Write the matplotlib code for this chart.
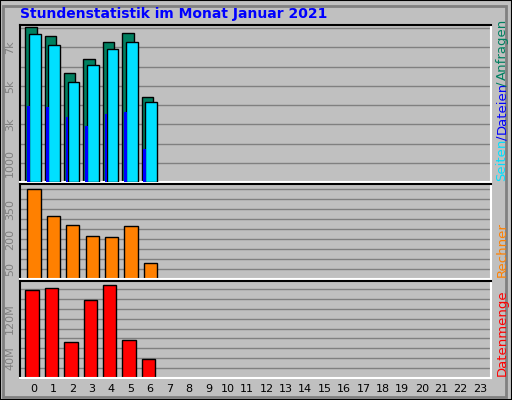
import matplotlib
matplotlib.use("Agg")
import matplotlib.pyplot as plt
from matplotlib.patches import Rectangle

hours = list(range(24))
hits = [8040, 7600, 5670, 6400, 7300, 7770, 4400]
files = [7680, 7140, 5190, 6090, 6930, 7300, 4140]
pages = [3950, 3880, 3370, 2930, 3530, 3630, 1740]
sites = [448, 316, 270, 215, 209, 265, 78]
kbytes = [178.6e6, 181e6, 73e6, 158e6, 187e6, 77e6, 38e6]

W, H = 512, 400
fig = plt.figure(figsize=(W/100, H/100), dpi=100)
fig.patch.set_facecolor('#C0C0C0')
bg = '#C0C0C0'
fig.add_artist(Rectangle((0, 0), 1, 1, transform=fig.transFigure, fill=False, ec='black', lw=1.5))
fig.add_artist(Rectangle((3/W, 3/H), 1-9/W, 1-9/H, transform=fig.transFigure, fill=False, ec='#808080', lw=2))

def ax_at(x0, y0, x1, y1):
    a = fig.add_axes([x0/W, 1-y1/H, (x1-x0)/W, (y1-y0)/H])
    a.set_facecolor(bg)
    for s in a.spines.values():
        s.set_color('white'); s.set_linewidth(1.5)
    a.spines['top'].set_color('black'); a.spines['left'].set_color('black')
    a.set_xlim(-0.706, 23.57)
    a.tick_params(length=0, labelsize=8, labelcolor='#808080')
    a.set_xticks([])
    return a

def grid(a, step, top):
    v = step
    while v < top:
        a.axhline(v, color='#808080', lw=1, zorder=0)
        v += step

a1 = ax_at(20, 25, 491, 182)
a1.set_ylim(0, 8160)
grid(a1, 1000, 8160)
for i in range(len(hits)):
    a1.bar(i - 0.44, hits[i], width=0.59, align='edge', color='#008060', ec='black', lw=1, zorder=2)
    a1.bar(i - 0.24, files[i], width=0.60, align='edge', color='#00E0FF', ec='black', lw=1, zorder=3)
    a1.bar(i - 0.35, pages[i], width=0.14, align='edge', color='#0000FF', ec='none', zorder=4)
a1.set_yticks([1000, 3000, 5000, 7000], ['1000', '3k', '5k', '7k'], rotation=90, va='center')

a2 = ax_at(20, 184, 491, 279)
a2.set_ylim(0, 475)
grid(a2, 50, 475)
a2.bar([i - 0.33 for i in range(len(sites))], sites, width=0.69, align='edge', color='#FF8000', ec='black', lw=1, zorder=2)
a2.set_yticks([50, 200, 350], ['50', '200', '350'], rotation=90, va='center')

a3 = ax_at(20, 281, 491, 378)
a3.set_ylim(0, 196e6)
grid(a3, 20e6, 196e6)
a3.bar([i - 0.43 for i in range(len(kbytes))], kbytes, width=0.69, align='edge', color='#FF0000', ec='black', lw=1, zorder=2)
a3.set_yticks([40e6, 120e6], ['40M', '120M'], rotation=90, va='center')
a3.set_xticks(hours, [str(h) for h in hours])
a3.tick_params(axis='x', labelcolor='black', labelsize=8, pad=4)

fig.text(20/W, 1-14/H, 'Stundenstatistik im Monat Januar 2021', color='#0000FF', fontsize=10, fontweight='bold', va='center', ha='left')

kw = dict(rotation=90, fontsize=9.5, ha='center', va='bottom', transform=fig.transFigure)
fig.text(502/W, 1-181/H, 'Seiten', color='#00E0FF', **kw)
fig.text(502/W, 1-140/H, '/', color='#0000FF', **kw)
fig.text(502/W, 1-134/H, 'Dateien', color='#0000FF', **kw)
fig.text(502/W, 1-86/H, '/', color='#008060', **kw)
fig.text(502/W, 1-80/H, 'Anfragen', color='#008060', **kw)
fig.text(502/W, 1-277/H, 'Rechner', color='#FF8000', **kw)
fig.text(502/W, 1-376/H, 'Datenmenge', color='#FF0000', **kw)

fig.savefig('out.png', dpi=100, facecolor=fig.get_facecolor())
